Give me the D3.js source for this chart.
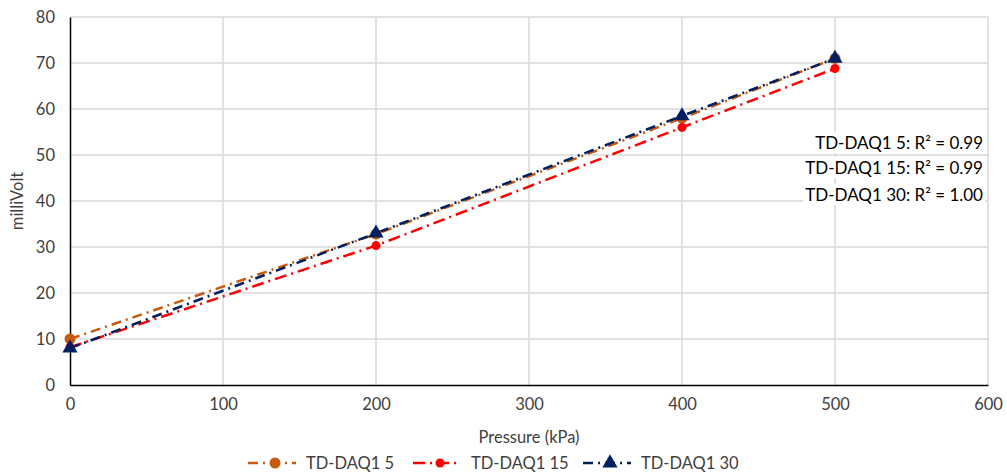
<!DOCTYPE html>
<html><head><meta charset="utf-8">
<script src="https://cdn.jsdelivr.net/npm/d3@7"></script>
<style>body{margin:0;background:#fff;} text{font-family:Lato,"Open Sans",sans-serif;}</style>
</head><body>
<svg id="c" width="1007" height="473"></svg>
<script>
const pressure = [0, 200, 400, 500];
const daq5 = [10, 32.8, 58, 71];
const daq15 = [8.2, 30.3, 56, 68.8];
const daq30 = [8, 33, 58.5, 71];
const seriesNames = ["TD-DAQ1 5", "TD-DAQ1 15", "TD-DAQ1 30"];
const r2Labels = ["TD-DAQ1 5: R² = 0.99", "TD-DAQ1 15: R² = 0.99", "TD-DAQ1 30: R² = 1.00"];
const xTicks = [0, 100, 200, 300, 400, 500, 600];
const yTicks = [0, 10, 20, 30, 40, 50, 60, 70, 80];

const svg = d3.select("#c");
const x = d3.scaleLinear().domain([0, 600]).range([70, 988]);
const y = d3.scaleLinear().domain([0, 80]).range([385, 17]);
const FS = 16.5;

// grid
svg.append("g").selectAll("line").data(yTicks.slice(1)).join("line")
  .attr("x1", x(0)).attr("x2", x(600)).attr("y1", d => y(d)).attr("y2", d => y(d))
  .attr("stroke", "#d9d9d9").attr("stroke-width", 1.5);
svg.append("g").selectAll("line").data(xTicks.slice(1)).join("line")
  .attr("y1", y(0)).attr("y2", y(80)).attr("x1", d => x(d)).attr("x2", d => x(d))
  .attr("stroke", "#d9d9d9").attr("stroke-width", 1.5);

// axes
const xa = svg.append("g").attr("transform", `translate(0,${y(0)})`)
  .call(d3.axisBottom(x).tickValues(xTicks).tickSize(0).tickPadding(13));
const ya = svg.append("g").attr("transform", `translate(${x(0)},0)`)
  .call(d3.axisLeft(y).tickValues(yTicks).tickSize(0).tickPadding(15));
[xa, ya].forEach(a => {
  a.select(".domain").attr("stroke", "#000").attr("stroke-width", 1.5);
  a.selectAll("text").attr("font-size", FS).attr("fill", "#404040").attr("font-family", "Lato");
});

svg.append("text").attr("x", x(300)).attr("y", 443).attr("text-anchor", "middle")
  .attr("font-size", FS).attr("fill", "#404040").text("Pressure (kPa)");
svg.append("text").attr("transform", `translate(23,${y(40)}) rotate(-90)`).attr("text-anchor", "middle")
  .attr("font-size", FS).attr("fill", "#404040").text("milliVolt");

const series = [
  {name: seriesNames[0], vals: daq5, color: "#c55a11", dash: "10,5,2,5", marker: "circle", r: 5.5},
  {name: seriesNames[1], vals: daq15, color: "#ff0000", dash: "12,5,2,5", marker: "circle", r: 4.5},
  {name: seriesNames[2], vals: daq30, color: "#002060", dash: "10,5,2,5", marker: "triangle", r: 6}
];

const line = d3.line().x(d => x(d[0])).y(d => y(d[1]));
series.forEach(s => {
  const pts = pressure.map((p, i) => [p, s.vals[i]]);
  svg.append("path").datum(pts).attr("d", line).attr("fill", "none")
    .attr("stroke", s.color).attr("stroke-width", 2.5).attr("stroke-dasharray", s.dash);
});
function drawMarker(g, s, cx, cy) {
  if (s.marker === "circle") {
    g.append("circle").attr("cx", cx).attr("cy", cy).attr("r", s.r).attr("fill", s.color);
  } else {
    g.append("path").attr("transform", `translate(${cx},${cy})`)
      .attr("d", d3.symbol(d3.symbolTriangle, 100)()).attr("fill", s.color);
  }
}
series.forEach(s => {
  const g = svg.append("g");
  pressure.forEach((p, i) => drawMarker(g, s, x(p), y(s.vals[i])));
});

// R2 labels
const ry = [143, 168, 195];
const lg = svg.append("g");
const bgG = lg.append("g"), txG = lg.append("g");
r2Labels.forEach((t, i) => {
  const tx = txG.append("text").attr("x", 983).attr("y", ry[i] + 6).attr("text-anchor", "end")
    .attr("font-size", 17).attr("fill", "#000").text(t);
  const bb = tx.node().getBBox();
  bgG.append("rect").attr("x", bb.x - 2).attr("y", bb.y).attr("width", bb.width + 4).attr("height", bb.height).attr("fill", "#fff");
});

// legend
const lx = [248, 413, 583];
series.forEach((s, i) => {
  const g = svg.append("g").attr("transform", `translate(${lx[i]},463)`);
  g.append("line").attr("x1", 0).attr("x2", 48).attr("y1", 0).attr("y2", 0)
    .attr("stroke", s.color).attr("stroke-width", 2.5).attr("stroke-dasharray", s.dash);
  drawMarker(g, s, 27, 0);
  g.append("text").attr("x", 58).attr("y", 6).attr("font-size", FS).attr("fill", "#404040").text(s.name);
});
</script>
</body></html>
